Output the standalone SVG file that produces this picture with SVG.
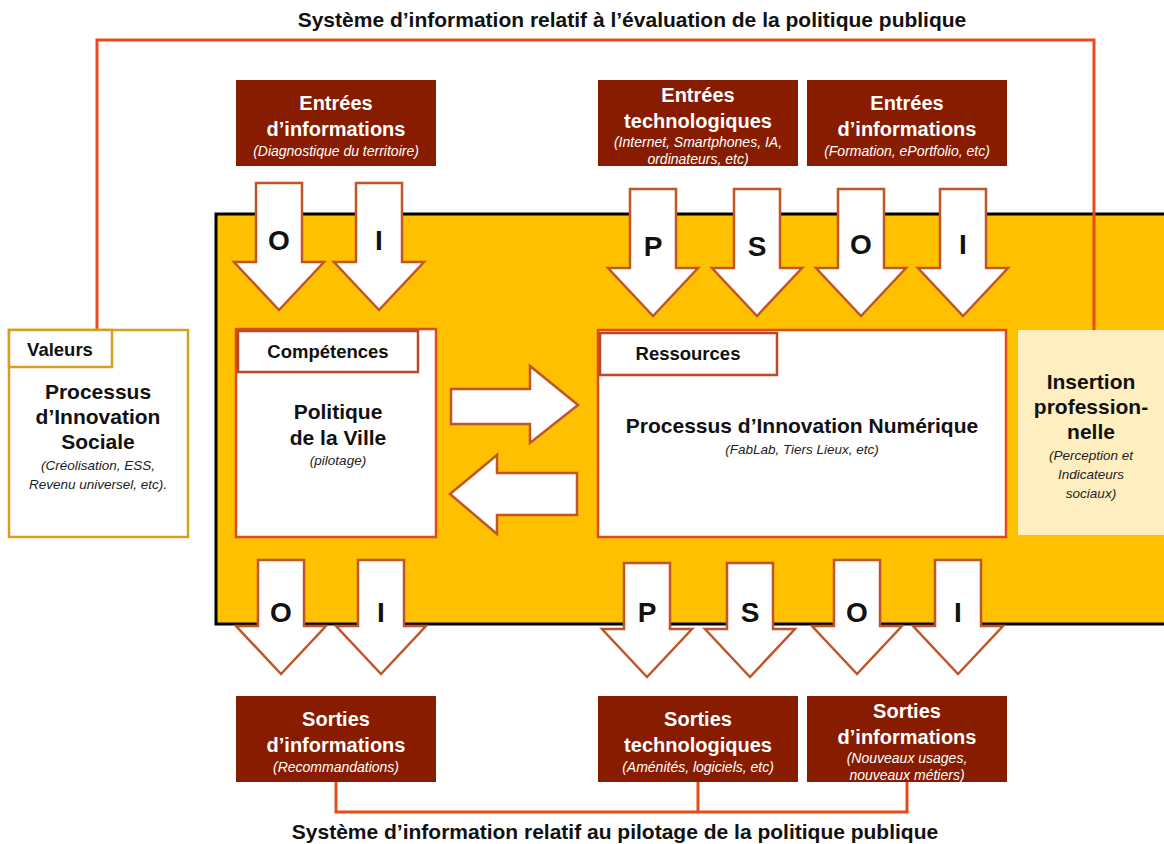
<svg xmlns="http://www.w3.org/2000/svg" xmlns:xlink="http://www.w3.org/1999/xlink" width="1164" height="844" viewBox="0 0 1164 844">
<style>
text{font-family:"Liberation Sans",Arial,sans-serif;text-anchor:middle}
.t{font-size:21px;font-weight:bold;fill:#111}
.bh{font-size:20px;font-weight:bold;fill:#fff}
.bs{font-size:14px;font-style:italic;fill:#fff}
.dk{fill:#871C00}
.ah{fill:#fff;stroke:#C0552A;stroke-width:2.5}
.lt{font-size:28px;font-weight:bold;fill:#111}
.h{font-size:18.5px;font-weight:bold;fill:#111}
.mh{font-size:21px;font-weight:bold;fill:#111}
.ms{font-size:13.5px;font-style:italic;fill:#222}
.ln{fill:none;stroke:#E84A1E;stroke-width:3}
</style>
<defs>
<path id="down" d="M-23,0 H23 V79 H45 L0,127 L-45,79 H-23 Z"/>
<path id="downb" d="M-23,0 H23 V66 H45 L0,114 L-45,66 H-23 Z"/>
</defs>
<rect width="1164" height="844" fill="#fff"/>
<g id="main-area">
<rect x="216" y="214" width="960" height="410" fill="#FFC000" stroke="#000" stroke-width="3"/>
</g>
<g id="connectors">
<path class="ln" d="M97,330 V40 H1094 V330"/>
<path class="ln" d="M336,782 V812 H907 V782 M698,782 V812"/>
</g>
<text class="t" x="632" y="27">Système d’information relatif à l’évaluation de la politique publique</text>
<text class="t" x="615" y="839">Système d’information relatif au pilotage de la politique publique</text>
<g id="in-left">
<rect class="dk" x="236" y="80" width="200" height="86"/>
<text class="bh" x="336" y="110">Entrées</text>
<text class="bh" x="336" y="136">d’informations</text>
<text class="bs" x="336" y="156">(Diagnostique du territoire)</text>
</g>
<g id="in-tech">
<rect class="dk" x="598" y="80" width="200" height="86"/>
<text class="bh" x="698" y="102">Entrées</text>
<text class="bh" x="698" y="128">technologiques</text>
<text class="bs" x="698" y="147">(Internet, Smartphones, IA,</text>
<text class="bs" x="698" y="164">ordinateurs, etc)</text>
</g>
<g id="in-right">
<rect class="dk" x="807" y="80" width="200" height="86"/>
<text class="bh" x="907" y="110">Entrées</text>
<text class="bh" x="907" y="136">d’informations</text>
<text class="bs" x="907" y="156">(Formation, ePortfolio, etc)</text>
</g>
<g id="arrows-top">
<use href="#down" class="ah" x="279" y="183"/><text class="lt" x="279" y="250">O</text>
<use href="#down" class="ah" x="379" y="183"/><text class="lt" x="379" y="250">I</text>
<use href="#down" class="ah" x="653" y="189"/><text class="lt" x="653" y="256">P</text>
<use href="#down" class="ah" x="757" y="189"/><text class="lt" x="757" y="256">S</text>
<use href="#down" class="ah" x="861" y="189"/><text class="lt" x="861" y="254">O</text>
<use href="#down" class="ah" x="963" y="189"/><text class="lt" x="963" y="254">I</text>
</g>
<g id="valeurs">
<rect x="9" y="330" width="179" height="207" fill="#fff" stroke="#D4A020" stroke-width="2.5"/>
<rect x="9" y="330" width="103" height="37" fill="#fff" stroke="#D4A020" stroke-width="2.5"/>
<text class="h" x="60" y="356">Valeurs</text>
<text class="mh" x="98" y="399">Processus</text>
<text class="mh" x="98" y="424">d’Innovation</text>
<text class="mh" x="98" y="449">Sociale</text>
<text class="ms" x="98" y="470">(Créolisation, ESS,</text>
<text class="ms" x="98" y="489">Revenu universel, etc).</text>
</g>
<g id="competences">
<rect x="236" y="329" width="200" height="208" fill="#fff" stroke="#E04A20" stroke-width="2.5"/>
<rect x="238" y="331" width="180" height="41" fill="#fff" stroke="#B84A24" stroke-width="2.5"/>
<text class="h" x="328" y="358">Compétences</text>
<text class="mh" x="338" y="419">Politique</text>
<text class="mh" x="338" y="445">de la Ville</text>
<text class="ms" x="338" y="465">(pilotage)</text>
</g>
<g id="h-arrows">
<path class="ah" d="M451,389 H530 V366 L578,405 L530,443 V424 H451 Z"/>
<path class="ah" d="M577,473 H497 V455 L450,494 L497,534 V515 H577 Z"/>
</g>
<g id="ressources">
<rect x="598" y="330" width="408" height="207" fill="#fff" stroke="#E04A20" stroke-width="2.5"/>
<rect x="600" y="333" width="177" height="42" fill="#fff" stroke="#B84A24" stroke-width="2.5"/>
<text class="h" x="688" y="360">Ressources</text>
<text class="mh" x="802" y="433">Processus d’Innovation Numérique</text>
<text class="ms" x="802" y="454">(FabLab, Tiers Lieux, etc)</text>
</g>
<g id="insertion">
<rect x="1018" y="330" width="146" height="205" fill="#FFEFC0"/>
<text class="mh" x="1091" y="389">Insertion</text>
<text class="mh" x="1091" y="414">profession-</text>
<text class="mh" x="1091" y="439">nelle</text>
<text class="ms" x="1091" y="460">(Perception et</text>
<text class="ms" x="1091" y="479">Indicateurs</text>
<text class="ms" x="1091" y="498">sociaux)</text>
</g>
<g id="arrows-bottom">
<use href="#downb" class="ah" x="281" y="560"/><text class="lt" x="281" y="622">O</text>
<use href="#downb" class="ah" x="381" y="560"/><text class="lt" x="381" y="622">I</text>
<use href="#downb" class="ah" x="647" y="563"/><text class="lt" x="647" y="622">P</text>
<use href="#downb" class="ah" x="750" y="563"/><text class="lt" x="750" y="622">S</text>
<use href="#downb" class="ah" x="857" y="560"/><text class="lt" x="857" y="622">O</text>
<use href="#downb" class="ah" x="958" y="560"/><text class="lt" x="958" y="622">I</text>
</g>
<g id="out-left">
<rect class="dk" x="236" y="696" width="200" height="86"/>
<text class="bh" x="336" y="726">Sorties</text>
<text class="bh" x="336" y="752">d’informations</text>
<text class="bs" x="336" y="772">(Recommandations)</text>
</g>
<g id="out-tech">
<rect class="dk" x="598" y="696" width="200" height="86"/>
<text class="bh" x="698" y="726">Sorties</text>
<text class="bh" x="698" y="752">technologiques</text>
<text class="bs" x="698" y="772">(Aménités, logiciels, etc)</text>
</g>
<g id="out-right">
<rect class="dk" x="807" y="696" width="200" height="86"/>
<text class="bh" x="907" y="718">Sorties</text>
<text class="bh" x="907" y="744">d’informations</text>
<text class="bs" x="907" y="763">(Nouveaux usages,</text>
<text class="bs" x="907" y="780">nouveaux métiers)</text>
</g>
</svg>
